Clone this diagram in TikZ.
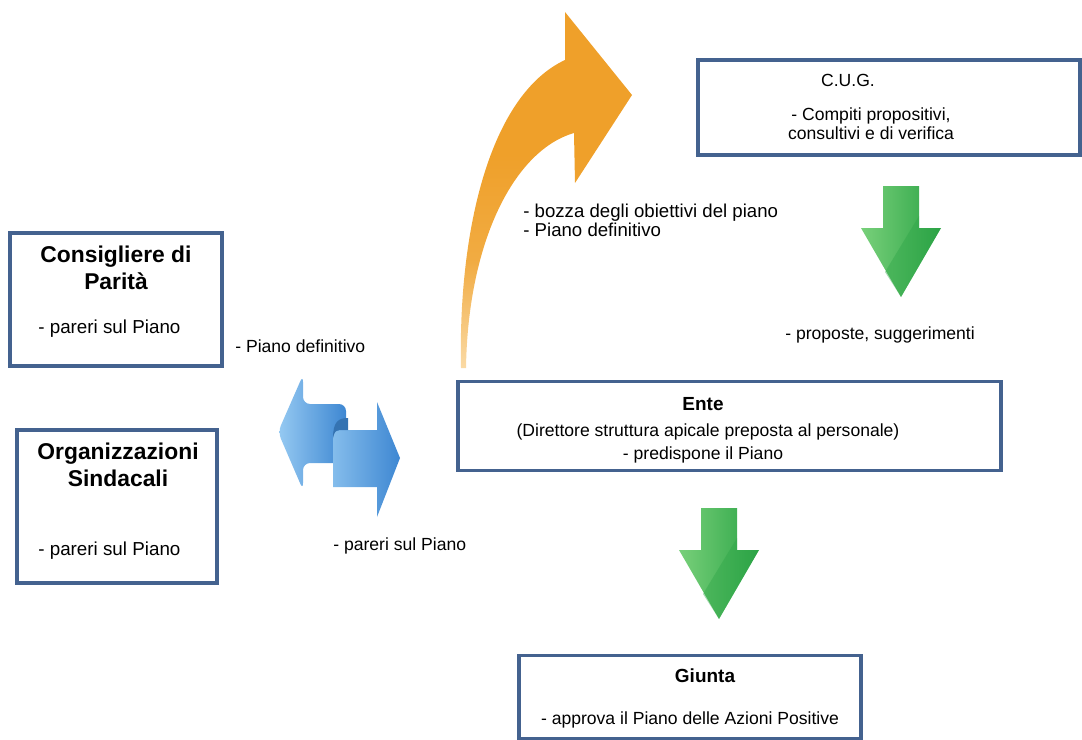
\documentclass[tikz,border=0pt]{standalone}
\usepackage{fontspec}
\setmainfont{Liberation Sans}
\definecolor{boxblue}{RGB}{68,98,143}
\definecolor{orangetop}{RGB}{239,160,42}
\definecolor{orangebot}{RGB}{250,218,165}
\definecolor{greenlight}{RGB}{120,208,122}
\definecolor{greendark}{RGB}{44,164,70}
\definecolor{bluelight}{RGB}{150,202,242}
\definecolor{bluedark}{RGB}{62,135,210}
\pgfdeclareverticalshading{orangefade}{100bp}{color(0bp)=(orangebot); color(25bp)=(orangebot); color(40bp)=(orangetop!80!orangebot); color(55bp)=(orangetop); color(100bp)=(orangetop)}

\begin{document}
\begin{tikzpicture}[
                x=0.02cm, y=-0.02cm,
                box/.style={draw=boxblue, line width=1.8pt, inner sep=0pt, outer sep=0pt},
                txt/.style={inner sep=0pt, font=\fontsize{10}{10.8}\selectfont},
                bigtxt/.style={inner sep=0pt, font=\fontsize{10.7}{12}\selectfont},
                head/.style={inner sep=0pt, font=\fontsize{10.8}{12}\selectfont\bfseries},
                title/.style={inner sep=0pt, align=center, font=\fontsize{13}{15.4}\selectfont\bfseries}
            ]
            \useasboundingbox (0, 0) rectangle (1082, 740);
            % boxes
            \node[box, minimum width=7.64cm, minimum height=1.9cm] (cug) at (889, 107.5) {};
            \node[box, minimum width=4.24cm, minimum height=2.66cm] (cons) at (116, 299.5) {};
            \node[box, minimum width=4cm, minimum height=3.06cm] (org) at (117, 506.5) {};
            \node[box, minimum width=10.86cm, minimum height=1.78cm] (ente) at (729.5, 426) {};
            \node[box, minimum width=6.84cm, minimum height=1.66cm] (giunta) at (690, 697) {};
            % texts in boxes
            \node[txt] (cugname) at (848, 80) {C.U.G.};
            \node[txt, align=center] (cugtask) at (871, 124) {- Compiti propositivi,\\consultivi e di verifica};
            \node[title] (consname) at (116, 268) {Consigliere di\\Parità};
            \node[bigtxt, anchor=west] (constask) at (38, 329) {- pareri sul Piano};
            \node[title] (orgname) at (118, 465) {Organizzazioni\\Sindacali};
            \node[bigtxt, anchor=west] (orgtask) at (38, 551) {- pareri sul Piano};
            \node[head] (entename) at (703, 404) {Ente};
            \node[txt] (entedir) at (708, 432) {(Direttore struttura apicale preposta al personale)};
            \node[txt] (entetask) at (703, 455) {- predispone il Piano};
            \node[head] (giuntaname) at (705, 676) {Giunta};
            \node[txt] (giuntatask) at (690, 720) {- approva il Piano delle Azioni Positive};
            % labels of the arrows
            \node[txt, anchor=west] (defin) at (235, 346) {- Piano definitivo};
            \node[txt, anchor=west] (pareri) at (333, 546) {- pareri sul Piano};
            \node[txt, anchor=west, align=left, font=\fontsize{10.6}{10.8}\selectfont] (bozza) at (523, 220) {- bozza degli obiettivi del piano\\- Piano definitivo};
            \node[txt, anchor=west] (proposte) at (785, 335) {- proposte, suggerimenti};
            % orange curved arrow
            \shade[shading=orangefade]
                (461, 368) .. controls (458, 230) and (490, 95) .. (565, 60)
                -- (565, 12) -- (632, 95) -- (575, 183) -- (574, 133)
                .. controls (515, 150) and (468, 240) .. (466, 368) -- cycle;
            % green arrows
            \foreach \cx/\ty in {901/186, 719/508} {
                \shade[left color=greenlight, right color=greendark]
                    (\cx-18, \ty) -- (\cx+18, \ty) -- (\cx+18, \ty+42) -- (\cx+40, \ty+42)
                    -- (\cx, \ty+111) -- (\cx-40, \ty+42) -- (\cx-18, \ty+42) -- cycle;
                \fill[greendark, opacity=0.4]
                    (\cx+18, \ty+30) -- (\cx+18, \ty+42) -- (\cx+40, \ty+42)
                    -- (\cx, \ty+111) -- (\cx-16, \ty+86) -- cycle;
            }
            % blue double arrow
            \shade[left color=bluelight, right color=bluedark, rounded corners=4]
                (278, 432) -- (303, 375) -- (303, 404) -- (346, 404) -- (346, 463)
                -- (303, 463) -- (303, 490) -- cycle;
            \shade[left color=bluelight!80!bluedark, right color=bluedark]
                (333, 487) -- (333, 438) .. controls (333, 432) .. (340, 430) -- (377, 430)
                -- (377, 402) -- (400, 458) -- (377, 517) -- (377, 487) -- cycle;
            \fill[bluedark!85!black]
                (333, 438) .. controls (333, 421) and (339, 418) .. (348, 418)
                -- (348, 430) -- (340, 430) .. controls (335, 431) .. (333, 438) -- cycle;
        \end{tikzpicture}
\end{document}
